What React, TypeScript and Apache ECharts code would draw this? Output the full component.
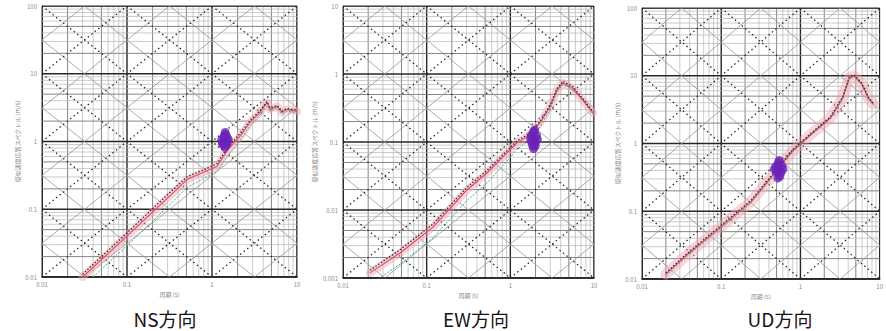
import React, { useEffect, useRef } from "react";
import * as echarts from "echarts";

// ---- chart data ----------------------------------------------------------
const PANEL_TITLES = ["NS方向", "EW方向", "UD方向"];
const X_AXIS_NAME = "周期 (s)";
const Y_AXIS_NAME = "擬似速度応答スペクトル (m/s)";

const PERIOD_RANGES: [number, number][] = [
  [0.01, 10],
  [0.01, 10],
  [0.01, 10],
];
const VELOCITY_RANGES: [number, number][] = [
  [0.01, 100],
  [0.001, 10],
  [0.01, 100],
];
// log paper rulings inside each decade
const GRID_STEPS = [1, 2, 3, 4, 5, 6, 7, 8, 9];
// tripartite diagonals (acceleration / displacement), every half decade
const DIAGONAL_STEP = 0.5;

// NS component
const nsPeriod = [0.03, 0.063, 0.142, 0.348, 0.508, 0.828, 1.146, 1.54, 2.13, 2.8, 3.67, 4.44, 4.81, 5.82, 6.66, 7.62, 10];
const nsRed = [0.01, 0.0235, 0.061, 0.175, 0.274, 0.36, 0.427, 0.76, 1.19, 1.91, 2.69, 3.78, 2.98, 3.31, 2.69, 2.98, 2.78];
const nsGreen = [0.0072, 0.017, 0.044, 0.13, 0.21, 0.29, 0.36, 0.62, 1.02, 1.7, 2.45, 3.4, 2.8, 3.1, 2.55, 2.8, 2.65];
const nsGray = [0.011, 0.026, 0.068, 0.195, 0.3, 0.39, 0.47, 0.83, 1.3, 2.05, 2.85, 3.9, 3.15, 3.4, 2.8, 3.05, 2.9];
const nsMarks = [
  [1.42, 1.03], [1.35, 0.9], [1.5, 0.92], [1.3, 1.05], [1.55, 1.08], [1.42, 1.25],
  [1.38, 1.18], [1.48, 1.2], [1.42, 0.82], [1.33, 0.95], [1.52, 1.0], [1.43, 1.36],
];

// EW component
const ewPeriod = [0.021, 0.048, 0.119, 0.303, 0.525, 0.91, 1.2, 1.58, 2.26, 2.98, 3.61, 4.26, 5.6, 7.4, 9.7];
const ewRed = [0.00119, 0.00233, 0.0056, 0.0197, 0.035, 0.069, 0.097, 0.119, 0.19, 0.33, 0.58, 0.74, 0.62, 0.41, 0.27];
const ewGreen = [0.0008, 0.0016, 0.0039, 0.0138, 0.025, 0.052, 0.078, 0.1, 0.165, 0.3, 0.54, 0.7, 0.6, 0.4, 0.26];
const ewGray = [0.0013, 0.0026, 0.0062, 0.0215, 0.038, 0.074, 0.104, 0.126, 0.2, 0.35, 0.61, 0.78, 0.65, 0.43, 0.28];
const ewMarks = [
  [1.91, 0.115], [1.8, 0.1], [2.0, 0.1], [1.78, 0.125], [2.05, 0.125], [1.9, 0.14],
  [1.95, 0.15], [1.85, 0.088], [1.98, 0.088], [1.9, 0.08], [2.1, 0.11], [1.75, 0.112],
];

// UD component
const udPeriod = [0.02, 0.0377, 0.094, 0.24, 0.493, 0.789, 1.37, 2.38, 3.41, 4.14, 4.75, 5.93, 7.19, 8.26];
const udRed = [0.0118, 0.0232, 0.056, 0.14, 0.39, 0.77, 1.38, 2.38, 4.7, 9.3, 10.0, 7.6, 4.7, 3.85];
const udGreen = [0.011, 0.022, 0.053, 0.133, 0.37, 0.74, 1.33, 2.3, 4.5, 9.0, 9.7, 7.4, 4.6, 3.75];
const udGray = [0.0123, 0.0242, 0.0586, 0.1465, 0.406, 0.8, 1.43, 2.46, 4.85, 9.6, 10.3, 7.81, 4.85, 3.96];
const udMarks = [
  [0.536, 0.434], [0.5, 0.38], [0.57, 0.38], [0.49, 0.46], [0.58, 0.47], [0.53, 0.52],
  [0.55, 0.33], [0.52, 0.31], [0.6, 0.42], [0.47, 0.42], [0.54, 0.56],
];

const PANELS = [
  { period: nsPeriod, red: nsRed, green: nsGreen, gray: nsGray, marks: nsMarks },
  { period: ewPeriod, red: ewRed, green: ewGreen, gray: ewGray, marks: ewMarks },
  { period: udPeriod, red: udRed, green: udGreen, gray: udGray, marks: udMarks },
];

// ---- layout ----------------------------------------------------------------
const GRID_RECTS = [
  { left: 42, top: 6, width: 255, height: 271 },
  { left: 343, top: 6, width: 251, height: 272 },
  { left: 642, top: 8, width: 250, height: 271 },
];
const Y_NAME_GAPS = [22, 26, 22];
const TITLE_CENTERS = [165, 476, 780];

const zip = (xs: number[], ys: number[]) => xs.map((x, i) => [x, ys[i]]);

// rulings of the log paper: [x1, y1, x2, y2, weight]
function buildRulings(xr: [number, number], yr: [number, number]) {
  const out: number[][] = [];
  const addAxis = (r: [number, number], vertical: boolean) => {
    const e0 = Math.round(Math.log10(r[0]));
    const e1 = Math.round(Math.log10(r[1]));
    for (let e = e0; e <= e1; e++) {
      for (const s of GRID_STEPS) {
        const v = s * Math.pow(10, e);
        if (v > r[1] * 1.0001) break;
        const w = s === 1 ? 2 : s === 2 || s === 5 ? 1 : 0;
        if (vertical) out.push([v, yr[0], v, yr[1], w]);
        else out.push([xr[0], v, xr[1], v, w]);
      }
    }
  };
  addAxis(xr, true);
  addAxis(yr, false);
  return out;
}

// diagonals in log space: rising Y = X + k, falling Y = -X + k
function buildDiagonals(xr: [number, number], yr: [number, number]) {
  const out: number[][] = [];
  const a = Math.log10(xr[0]), b = Math.log10(xr[1]);
  const c = Math.log10(yr[0]), d = Math.log10(yr[1]);
  const kMin = Math.min(c - b, c + a) - 1;
  const kMax = Math.max(d - a, d + b) + 1;
  for (let k = Math.ceil(kMin); k <= kMax; k += DIAGONAL_STEP) {
    const major = Math.abs(k - Math.round(k)) < 1e-6 ? 1 : 0;
    // rising
    let x0 = Math.max(a, c - k), x1 = Math.min(b, d - k);
    if (x1 - x0 > 0.02) out.push([10 ** x0, 10 ** (x0 + k), 10 ** x1, 10 ** (x1 + k), major]);
    // falling
    x0 = Math.max(a, k - d);
    x1 = Math.min(b, k - c);
    if (x1 - x0 > 0.02) out.push([10 ** x0, 10 ** (k - x0), 10 ** x1, 10 ** (k - x1), major]);
  }
  return out;
}

const RULING_STYLES = [
  { stroke: "#b4b4b4", lineWidth: 0.7 },
  { stroke: "#787878", lineWidth: 0.9 },
  { stroke: "#262626", lineWidth: 1.4 },
];
const DIAGONAL_STYLES = [
  { stroke: "#8a8a8a", lineWidth: 0.7 },
  { stroke: "#2a2a2a", lineWidth: 1.3, lineDash: [1.5, 3] },
];

function segmentSeries(i: number, data: number[][], styles: any[], z: number) {
  return {
    type: "custom",
    xAxisIndex: i,
    yAxisIndex: i,
    silent: true,
    clip: true,
    z,
    encode: { x: [0, 2], y: [1, 3] },
    data,
    renderItem: (_params: any, api: any) => {
      const p1 = api.coord([api.value(0), api.value(1)]);
      const p2 = api.coord([api.value(2), api.value(3)]);
      const st = styles[api.value(4)];
      return {
        type: "line",
        shape: { x1: p1[0], y1: p1[1], x2: p2[0], y2: p2[1] },
        style: { stroke: st.stroke, lineWidth: st.lineWidth, lineDash: st.lineDash, fill: null },
      };
    },
  };
}

export default function App() {
  const ref = useRef<HTMLDivElement>(null);

  useEffect(() => {
    if (!ref.current) return;
    const chart = echarts.init(ref.current, undefined, { renderer: "svg" });

    const grid = GRID_RECTS.map((r) => ({
      ...r,
      show: true,
      borderColor: "#333",
      borderWidth: 1,
      backgroundColor: "#fff",
      containLabel: false,
    }));

    const labelStyle = { fontSize: 6, color: "#8c8c8c", fontFamily: "Noto Sans CJK JP" };

    const xAxis = PERIOD_RANGES.map((r, i) => ({
      type: "log",
      logBase: 10,
      gridIndex: i,
      min: r[0],
      max: r[1],
      splitLine: { show: false },
      axisTick: { show: false },
      axisLine: { show: true, lineStyle: { color: "#111", width: 1.6 } },
      axisLabel: { ...labelStyle, margin: 4 },
      name: X_AXIS_NAME,
      nameLocation: "middle",
      nameGap: 14,
      nameTextStyle: labelStyle,
    }));

    const yAxis = VELOCITY_RANGES.map((r, i) => ({
      type: "log",
      logBase: 10,
      gridIndex: i,
      min: r[0],
      max: r[1],
      splitLine: { show: false },
      axisTick: { show: false },
      axisLine: { show: true, lineStyle: { color: "#333", width: 1 } },
      axisLabel: { ...labelStyle, margin: 5 },
      name: Y_AXIS_NAME,
      nameLocation: "middle",
      nameRotate: 90,
      nameGap: Y_NAME_GAPS[i],
      nameTextStyle: labelStyle,
    }));

    const series: any[] = [];
    PANELS.forEach((p, i) => {
      const xr = PERIOD_RANGES[i];
      const yr = VELOCITY_RANGES[i];
      series.push(segmentSeries(i, buildRulings(xr, yr), RULING_STYLES, 1));
      series.push(segmentSeries(i, buildDiagonals(xr, yr), DIAGONAL_STYLES, 2));
      const lineBase = {
        type: "line",
        xAxisIndex: i,
        yAxisIndex: i,
        showSymbol: false,
        silent: true,
        clip: true,
      };
      // shaded envelope behind the spectra
      series.push({
        ...lineBase,
        z: 3,
        data: zip(p.period, p.red),
        lineStyle: { color: "rgba(240,160,175,0.45)", width: i === 2 ? 11 : 8, cap: "round", join: "round" },
      });
      series.push({
        ...lineBase,
        z: 4,
        data: zip(p.period, p.green),
        lineStyle: { color: "#3fae8c", width: 1, type: [2, 1.5] },
      });
      series.push({
        ...lineBase,
        z: 4,
        data: zip(p.period, p.red),
        lineStyle: { color: "#e0485a", width: 1.1 },
      });
      series.push({
        ...lineBase,
        z: 5,
        data: zip(p.period, p.gray),
        lineStyle: { color: "#333", width: 1.3, type: [1.5, 1.8] },
      });
      series.push({
        type: "scatter",
        xAxisIndex: i,
        yAxisIndex: i,
        silent: true,
        z: 6,
        symbol: "circle",
        symbolSize: 9,
        itemStyle: { color: "#6a22b8" },
        data: p.marks,
      });
    });

    const graphic = PANEL_TITLES.map((t, i) => ({
      type: "text",
      x: TITLE_CENTERS[i],
      y: 318,
      style: {
        text: t,
        font: '19px "Noto Sans CJK JP"',
        fill: "#151515",
        align: "center",
        verticalAlign: "middle",
        textAlign: "center",
        textVerticalAlign: "middle",
      },
    }));

    chart.setOption({
      animation: false,
      backgroundColor: "#fff",
      grid,
      xAxis,
      yAxis,
      series,
      graphic,
    });

    return () => chart.dispose();
  }, []);

  return (
    <div
      ref={ref}
      style={{ position: "fixed", left: 0, top: 0, width: 886, height: 331, background: "#fff" }}
    />
  );
}
